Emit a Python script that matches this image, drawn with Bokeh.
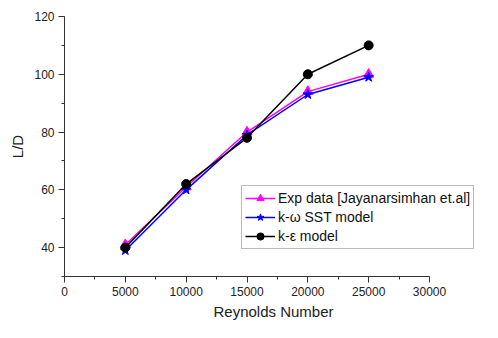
from bokeh.plotting import figure
from bokeh.models import Range1d, SingleIntervalTicker, Legend, LegendItem
from bokeh.embed import file_html
from bokeh.resources import INLINE

reynolds = [5000, 10000, 15000, 20000, 25000]
exp_data = [41, 61, 80, 94, 100]
sst_model = [39, 60, 79, 93, 99]
ke_model = [40, 62, 78, 100, 110]

FONT = "Liberation Sans"

p = figure(width=482, height=322, output_backend="svg", toolbar_location=None,
           x_range=Range1d(0, 34356), y_range=Range1d(30, 120),
           min_border_left=64, min_border_right=0, min_border_top=16, min_border_bottom=45)
p.outline_line_color = None
p.xgrid.visible = False
p.ygrid.visible = False

for ax in (p.xaxis[0], p.yaxis[0]):
    ax.axis_line_color = "#333333"
    ax.major_tick_line_color = "#333333"
    ax.minor_tick_line_color = "#333333"
    ax.major_tick_out = 6
    ax.major_tick_in = 0
    ax.minor_tick_out = 3
    ax.minor_tick_in = 0
    ax.major_label_text_font = FONT
    ax.major_label_text_font_size = "12px"
    ax.major_label_text_color = "#222222"
    ax.axis_label_text_font = FONT
    ax.axis_label_text_font_size = "15px"
    ax.axis_label_text_font_style = "normal"
    ax.axis_label_text_color = "#222222"

p.xaxis[0].ticker = SingleIntervalTicker(interval=5000, num_minor_ticks=2)
p.xaxis[0].bounds = (0, 30000)
p.xaxis[0].major_label_standoff = 4
p.xaxis[0].axis_label_standoff = 4
p.xaxis[0].axis_label = "Reynolds Number"

p.yaxis[0].ticker = SingleIntervalTicker(interval=20, num_minor_ticks=2)
p.yaxis[0].major_label_standoff = 4
p.yaxis[0].axis_label_standoff = 5
p.yaxis[0].axis_label = "L/D"

l1 = p.line(reynolds, exp_data, line_color="#ff00ff", line_width=1.5)
m1 = p.scatter(reynolds, exp_data, marker="triangle", size=10, color="#ff00ff")
l2 = p.line(reynolds, sst_model, line_color="#0000ff", line_width=1.5)
m2 = p.scatter(reynolds, sst_model, marker="star", size=10, color="#0000ff")
l3 = p.line(reynolds, ke_model, line_color="#000000", line_width=1.5)
m3 = p.scatter(reynolds, ke_model, marker="circle", size=9, color="#000000")

legend = Legend(items=[
    LegendItem(label="Exp data [Jayanarsimhan et.al]", renderers=[l1, m1]),
    LegendItem(label="k-\u03c9 SST model", renderers=[l2, m2]),
    LegendItem(label="k-\u03b5 model", renderers=[l3, m3]),
], location=(177, 27))
legend.label_text_font = FONT
legend.label_text_font_size = "14px"
legend.label_text_color = "#111111"
legend.border_line_color = "#777777"
legend.border_line_width = 1
legend.background_fill_alpha = 1
legend.glyph_width = 30
legend.glyph_height = 18
legend.label_height = 18
legend.spacing = 1
legend.padding = 3
legend.margin = 0
legend.label_standoff = 3
p.add_layout(legend, "center")

open("out.html", "w").write(file_html(p, INLINE))
